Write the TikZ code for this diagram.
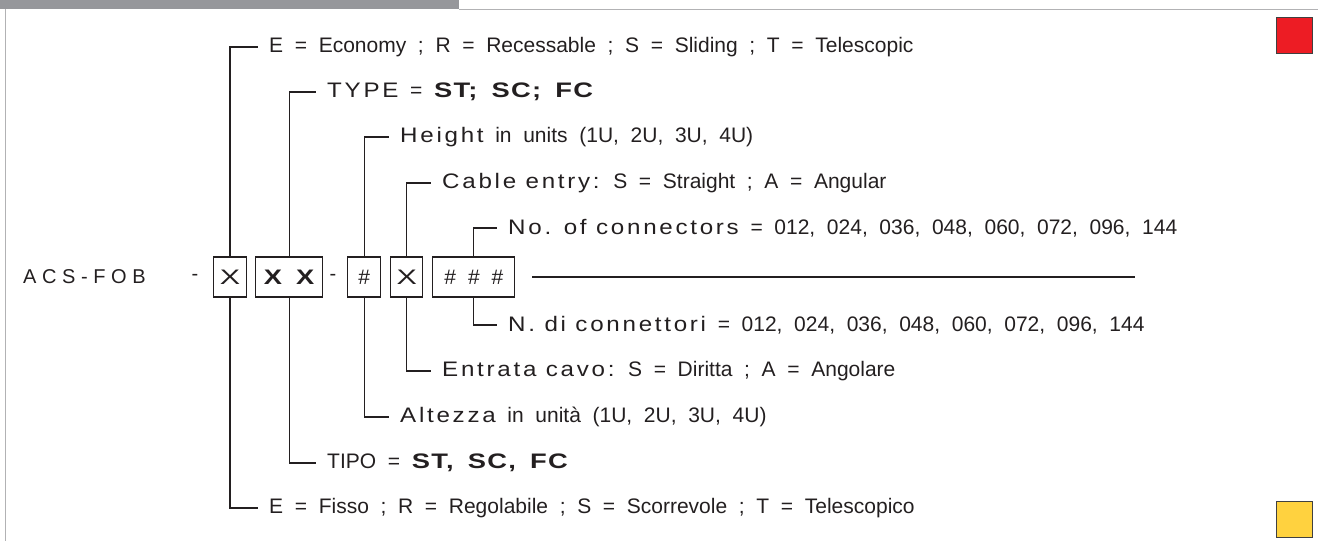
\documentclass[tikz,border=0pt]{standalone}
\usepackage{fontspec}
\setmainfont{Liberation Sans}
\newfontfamily\gapfont{Liberation Sans}[WordSpace=2.0]
\newfontfamily\spacedfont{Liberation Sans}[FakeStretch=1.15, LetterSpace=13]
\newfontfamily\heavyfont{Liberation Sans}[FakeStretch=1.3, LetterSpace=6, WordSpace=1.6]
\newfontfamily\wideglyph{Liberation Sans}[FakeStretch=1.45]
\usetikzlibrary{positioning}
\definecolor{inkgray}{RGB}{35,31,32}
\definecolor{bargray}{RGB}{150,151,155}
\definecolor{rulegray}{RGB}{178,178,180}
\definecolor{codered}{RGB}{237,28,36}
\definecolor{codeyellow}{RGB}{255,210,63}
\newcommand{\spaced}[1]{{\spacedfont #1}}
\newcommand{\heavy}[1]{{\heavyfont\bfseries #1}}

\begin{document}
\begin{tikzpicture}[x=1pt, y=1pt,
  codebox/.style={draw=inkgray, line width=1.1pt, minimum height=40pt, inner sep=0pt,
                  text=inkgray, font=\gapfont\fontsize{21}{24}\selectfont},
  lbl/.style={anchor=west, inner xsep=11pt, inner ysep=0pt, text=inkgray,
              font=\gapfont\fontsize{21}{24}\selectfont},
  lead/.style={draw=inkgray, line width=1.1pt},
  swatch/.style={draw=black!75, line width=1pt, minimum size=36pt, inner sep=0pt}
]
  % frame
  \useasboundingbox (0,0) rectangle (1318,-541);
  \fill[bargray] (0,0) rectangle (459,-9);
  \draw[rulegray, line width=1pt] (459,-9.5) -- (1318,-9.5);
  \draw[rulegray, line width=1pt] (5.5,-9) -- (5.5,-541);
  \node[swatch, fill=codered] (red) at (1294,-35.5) {};
  \node[swatch, fill=codeyellow] (yellow) at (1294,-519) {};

  % code
  \node[anchor=west, inner sep=0pt, text=inkgray, font=\fontsize{20}{24}\selectfont\addfontfeatures{LetterSpace=28}] (acs) at (23,-277) {ACS-FOB};
  \node[inner sep=0pt, text=inkgray, font=\fontsize{20}{24}\selectfont] (dashA) at (195,-277) {-};
  \node[codebox, minimum width=33pt] (bx) at (230,-277) {\wideglyph X};
  \node[codebox, minimum width=67pt, right=8pt of bx] (bxx) {\heavy{X X}};
  \node[codebox, minimum width=33pt, right=24pt of bxx] (bh) {\#};
  \node[codebox, minimum width=32pt, right=9pt of bh] (be) {\wideglyph X};
  \node[codebox, minimum width=82pt, right=9pt of be] (bn) {\#\hspace{12pt}\#\hspace{12pt}\#};
  \node[inner sep=0pt, text=inkgray, font=\fontsize{20}{24}\selectfont] (dashB) at (333,-277) {-};
  \coordinate (tailA) at (532,-277);
  \coordinate (tailB) at (1135,-277);

  % english
  \node[lbl] (eco) at (258,-47) {E = Economy ; R = Recessable ; S = Sliding ; T = Telescopic};
  \node[lbl] (typ) at (316,-92) {\spaced{TYPE} = \heavy{ST; SC; FC}};
  \node[lbl] (hgt) at (389,-137) {\spaced{Height} in units (1U, 2U, 3U, 4U)};
  \node[lbl] (cab) at (431,-183) {\spaced{Cable entry:} S = Straight ; A = Angular};
  \node[lbl] (noc) at (497,-228) {\spaced{No. of connectors} = 012, 024, 036, 048, 060, 072, 096, 144};
  % italiano
  \node[lbl] (ndi) at (497,-325) {\spaced{N. di connettori} = 012, 024, 036, 048, 060, 072, 096, 144};
  \node[lbl] (ent) at (431,-371) {\spaced{Entrata cavo:} S = Diritta ; A = Angolare};
  \node[lbl] (alt) at (389,-417) {\spaced{Altezza} in unità (1U, 2U, 3U, 4U)};
  \node[lbl] (tip) at (316,-463) {TIPO = \heavy{ST, SC, FC}};
  \node[lbl] (fis) at (258,-508) {E = Fisso ; R = Regolabile ; S = Scorrevole ; T = Telescopico};

  \draw[lead] (bx.north) |- (eco.west);
  \draw[lead] (bxx.north) |- (typ.west);
  \draw[lead] (bh.north) |- (hgt.west);
  \draw[lead] (be.north) |- (cab.west);
  \draw[lead] (bn.north) |- (noc.west);
  \draw[lead] (bn.south) |- (ndi.west);
  \draw[lead] (be.south) |- (ent.west);
  \draw[lead] (bh.south) |- (alt.west);
  \draw[lead] (bxx.south) |- (tip.west);
  \draw[lead] (bx.south) |- (fis.west);
  \draw[lead] (tailA) -- (tailB);
\end{tikzpicture}
\end{document}
